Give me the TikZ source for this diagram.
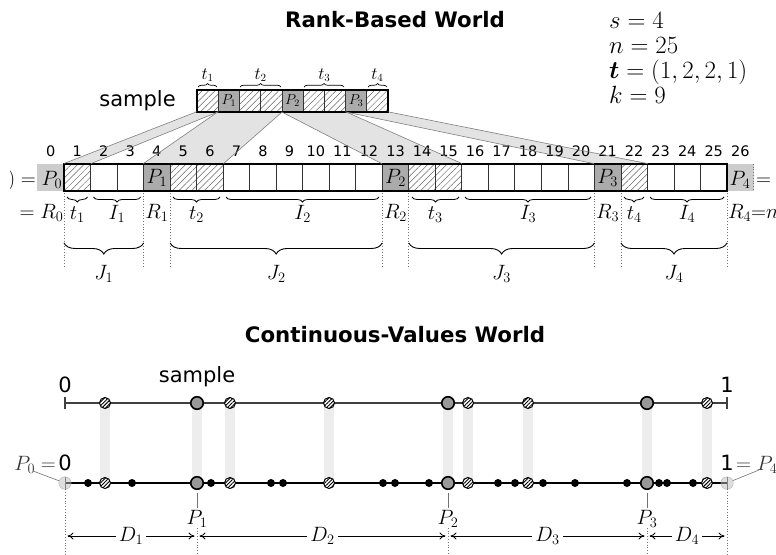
\documentclass[tikz,border=0pt]{standalone}
\usepackage{fontspec}
\usepackage{bm}
\newfontfamily\dvs{DejaVu Sans}
\usetikzlibrary{patterns.meta,decorations.pathreplacing,arrows.meta}
\pgfdeclarelayer{bg}
\pgfsetlayers{bg,main}
\newcommand\fsz[1]{\fontsize{#1}{#1}\selectfont}
\begin{document}
\begin{tikzpicture}[x=1pt,y=-1pt,
  titletext/.style={font=\dvs\bfseries\fsz{21.3}},
  sanslbl/.style={font=\dvs\fsz{21}, inner sep=0pt},
  numlbl/.style={font=\dvs\fsz{14.5}, inner sep=0pt},
  mlbl/.style={font=\fsz{22.5}, inner sep=0pt},
  plbl/.style={font=\fsz{23}, inner sep=0pt},
  slbl/.style={font=\fsz{16}, inner sep=0pt},
  rcell/.style={draw=black!80, line width=0.7pt, minimum width=26.52pt, minimum height=27pt, inner sep=0pt, font=\fsz{21}},
  scell/.style={draw=black!80, line width=0.7pt, minimum width=21.22pt, minimum height=21.5pt, inner sep=0pt, font=\fsz{14}},
  hatchc/.style={pattern={Lines[angle=45,distance=4.5pt,line width=0.5pt]}, pattern color=black!60},
  pcell/.style={fill=black!33},
  wcell/.style={fill=white},
  endcell/.style={fill=black!20, minimum width=26.52pt, minimum height=27pt, inner sep=0pt},
  fanfill/.style={fill=black!11},
  fanline/.style={draw=black!50, line width=0.6pt},
  dotl/.style={draw=black!55, dotted, line width=0.8pt},
  bracesm/.style={decorate, decoration={brace, mirror, amplitude=5pt}, line width=0.8pt},
  bracebig/.style={decorate, decoration={brace, mirror, amplitude=11pt}, line width=0.9pt},
  braceup/.style={decorate, decoration={brace, amplitude=3.5pt}, line width=0.7pt},
  ptb/.style={circle, fill=black, minimum size=8pt, inner sep=0pt},
  pth/.style={circle, draw=black, line width=1pt, minimum size=11pt, inner sep=0pt, preaction={fill=white}, pattern={Lines[angle=45,distance=2.6pt,line width=0.9pt]}, pattern color=black},
  ptg/.style={circle, draw=black, line width=1.6pt, minimum size=12.5pt, inner sep=0pt, fill=black!40},
  endc/.style={circle, draw=black!45, fill=black!25, fill opacity=0.5, draw opacity=0.6, minimum size=12.5pt, inner sep=0pt},
  band/.style={draw=black!7, line width=10.5pt},
  leader/.style={draw=black!55, line width=0.6pt},
  darr/.style={{To[length=6pt,width=7pt]}-{To[length=6pt,width=7pt]}, line width=0.8pt, shorten <=2.5pt, shorten >=2.5pt},
]
\useasboundingbox (0,0) rectangle (776,554);
\clip (10,0) rectangle (776,554);

% ---------------- Rank-Based World ----------------
\node[titletext] (title1) at (395,20) {Rank-Based World};

\node[plbl, anchor=base west] (ps) at (609,28) {$s = 4$};
\node[plbl, anchor=base west] (pn) at (609,53) {$n = 25$};
\node[plbl, anchor=base west] (pt) at (609,78) {$\bm{t} = (1, 2, 2, 1)$};
\node[plbl, anchor=base west] (pk) at (609,103) {$k = 9$};

% sample row
\node[sanslbl, anchor=base] (samplelbl) at (137.5,106) {sample};
\foreach \j/\k in {1/hatchc,3/hatchc,4/hatchc,6/hatchc,7/hatchc,9/hatchc}
  \node[scell,\k] (s\j) at ({197+21.22*\j-10.61},100.75) {};
\node[scell,pcell] (s2) at ({197+21.22*2-10.61},100.75) {$P_1$};
\node[scell,pcell] (s5) at ({197+21.22*5-10.61},100.75) {$P_2$};
\node[scell,pcell] (s8) at ({197+21.22*8-10.61},100.75) {$P_3$};
\draw[line width=2pt] (s1.north west) rectangle (s9.south east);

\draw[braceup] (198,87) -- (217,87);
\draw[braceup] (240,87) -- (281,87);
\draw[braceup] (304,87) -- (344,87);
\draw[braceup] (368,87) -- (387,87);
\node[slbl] (st1) at (207.6,75) {$t_1$};
\node[slbl] (st2) at (260.6,75) {$t_2$};
\node[slbl] (st3) at (324.3,75) {$t_3$};
\node[slbl] (st4) at (377.4,75) {$t_4$};

% rank row
\foreach \i/\k in {1/hatchc,2/wcell,3/wcell,5/hatchc,6/hatchc,7/wcell,8/wcell,9/wcell,10/wcell,11/wcell,12/wcell,14/hatchc,15/hatchc,16/wcell,17/wcell,18/wcell,19/wcell,20/wcell,22/hatchc,23/wcell,24/wcell,25/wcell}
  \node[rcell,\k] (r\i) at ({37.48+26.52*\i+13.26},177.5) {};
\node[rcell,pcell] (r4) at ({37.48+26.52*4+13.26},177.5) {$P_1$};
\node[rcell,pcell] (r13) at ({37.48+26.52*13+13.26},177.5) {$P_2$};
\node[rcell,pcell] (r21) at ({37.48+26.52*21+13.26},177.5) {$P_3$};
\node[endcell] (r0) at ({37.48+13.26},177.5) {};
\node[endcell] (r26) at ({37.48+26.52*26+13.26},177.5) {};
\draw[dotl] (r26.north east) -- (r26.south east);
\draw[line width=2pt] (r1.north west) rectangle (r25.south east);

\node[font=\fsz{21}, inner sep=0pt, anchor=base east] (p0lab) at (62.5,185) {$(0) = P_0$};
\node[font=\fsz{21}, inner sep=0pt, anchor=base west] (p4lab) at (729.5,185) {$P_4 = (n{+}1)$};

\foreach \i in {0,...,26}
  \node[numlbl] (n\i) at ({37.48+26.52*\i+13.26},151) {\i};

% fans
\begin{pgfonlayer}{bg}
  \fill[fanfill] (s1.south west) -- (r1.north west) -- (r1.north east) -- (s1.south east) -- cycle;
  \fill[fanfill] (s2.south west) -- (r4.north west) -- (r6.north east) -- (s4.south east) -- cycle;
  \fill[fanfill] (s5.south west) -- (r13.north west) -- (r15.north east) -- (s7.south east) -- cycle;
  \fill[fanfill] (s8.south west) -- (r21.north west) -- (r22.north east) -- (s9.south east) -- cycle;
\end{pgfonlayer}
\draw[fanline] (s1.south west) -- (r1.north west);
\draw[fanline] (s1.south east) -- (r1.north east);
\draw[fanline] (s2.south west) -- (r4.north west);
\draw[fanline] (s4.south east) -- (r6.north east);
\draw[fanline] (s5.south west) -- (r13.north west);
\draw[fanline] (s7.south east) -- (r15.north east);
\draw[fanline] (s8.south west) -- (r21.north west);
\draw[fanline] (s9.south east) -- (r22.north east);

% dotted guides below rank row
\foreach \x in {64,143.6,170.1,382.2,408.8,594.4,620.9,727}
  \draw[dotl] (\x,193) -- (\x,268);

% small braces
\draw[bracesm] (67,197) -- (87.5,197);
\draw[bracesm] (93.5,197) -- (140.6,197);
\draw[bracesm] (173,197) -- (220,197);
\draw[bracesm] (226,197) -- (379,197);
\draw[bracesm] (412,197) -- (459,197);
\draw[bracesm] (465,197) -- (591,197);
\draw[bracesm] (624,197) -- (644,197);
\draw[bracesm] (650,197) -- (724,197);
\node[mlbl, anchor=base] (lt1) at (77.3,219) {$t_1$};
\node[mlbl, anchor=base] (lI1) at (117,219) {$I_1$};
\node[mlbl, anchor=base] (lt2) at (196.6,219) {$t_2$};
\node[mlbl, anchor=base] (lI2) at (302.7,219) {$I_2$};
\node[mlbl, anchor=base] (lt3) at (435.3,219) {$t_3$};
\node[mlbl, anchor=base] (lI3) at (528,219) {$I_3$};
\node[mlbl, anchor=base] (lt4) at (634.2,219) {$t_4$};
\node[mlbl, anchor=base] (lI4) at (687,219) {$I_4$};

\node[mlbl, anchor=base east] (R0) at (63.5,218) {$= R_0$};
\node[mlbl, anchor=base] (R1) at (156.8,218) {$R_1$};
\node[mlbl, anchor=base] (R2) at (395.5,218) {$R_2$};
\node[mlbl, anchor=base] (R3) at (607.7,218) {$R_3$};
\node[mlbl, anchor=base west] (R4) at (728,218) {$R_4{=}n$};

% big braces
\draw[bracebig] (64,243) -- (143.6,243);
\draw[bracebig] (170.1,243) -- (382.2,243);
\draw[bracebig] (408.8,243) -- (594.4,243);
\draw[bracebig] (620.9,243) -- (727,243);
\node[mlbl, anchor=base] (J1) at (103.8,279) {$J_1$};
\node[mlbl, anchor=base] (J2) at (276.2,279) {$J_2$};
\node[mlbl, anchor=base] (J3) at (501.6,279) {$J_3$};
\node[mlbl, anchor=base] (J4) at (674,279) {$J_4$};

% ---------------- Continuous-Values World ----------------
\node[titletext] (title2) at (395,335) {Continuous-Values World};

\coordinate (tl0) at (65,403);
\coordinate (tl1) at (727,403);
\coordinate (bl0) at (65,483);
\coordinate (bl1) at (727,483);
\draw[line width=1.1pt, black!75] (tl0) -- (tl1);
\draw[line width=1.1pt, black!75] (65,397) -- (65,409);
\draw[line width=1.1pt, black!75] (727,397) -- (727,409);
\draw[line width=1.1pt] (bl0) -- (bl1);
\draw[line width=0.9pt, black!70] (65,477) -- (65,489);
\draw[line width=0.9pt, black!70] (727,477) -- (727,489);

\node[sanslbl, anchor=base] (zeroT) at (65,392) {0};
\node[sanslbl, anchor=base] (oneT) at (727,392) {1};
\node[sanslbl, anchor=base] (sample2) at (197,382) {sample};

\foreach \i in {88,132,211,271,283,383,395,429,498,515,543,575,627,659,667,693}
  \node[ptb] (bd\i) at (\i,483) {};

\foreach \x/\k [count=\c] in {105/pth,197/ptg,230/pth,329/pth,448/ptg,468/pth,528/pth,647/ptg,707/pth}{
  \node[\k] (ts\c) at (\x,403) {};
  \node[\k] (bs\c) at (\x,483) {};
  \begin{pgfonlayer}{bg}
    \draw[band] (ts\c.center) -- (bs\c.center);
  \end{pgfonlayer}
}

\node[endc] (p0c) at (65,483) {};
\node[endc] (p4c) at (727,483) {};
\node[sanslbl, anchor=base] (zeroB) at (65,470) {0};
\node[sanslbl, anchor=base] (oneB) at (727,470) {1};
\node[font=\fsz{21}, inner sep=0pt, anchor=base east, text=black!80] (p0eq) at (56,470) {$P_0 =$};
\node[font=\fsz{21}, inner sep=0pt, anchor=base west, text=black!80] (p4eq) at (736,470) {$= P_4$};
\coordinate (p0lead) at (33,471);
\coordinate (p4lead) at (759,470);
\draw[leader] (p0lead) -- (p0c);
\draw[leader] (p4lead) -- (p4c);

\node[mlbl] (lp1) at (197,519) {$P_1$};
\node[mlbl] (lp2) at (448,519) {$P_2$};
\node[mlbl] (lp3) at (647,519) {$P_3$};
\draw[leader, shorten <=3pt, shorten >=2pt] (bs2) -- (lp1);
\draw[leader, shorten <=3pt, shorten >=2pt] (bs5) -- (lp2);
\draw[leader, shorten <=3pt, shorten >=2pt] (bs8) -- (lp3);

\coordinate (dv0) at (65,554);
\coordinate (dv1) at (197,554);
\coordinate (dv2) at (448,554);
\coordinate (dv3) at (647,554);
\coordinate (dv4) at (727,554);
\draw[dotl] (p0c.south) -- (dv0);
\draw[dotl] (p4c.south) -- (dv4);
\draw[dotl] (lp1.south) -- (dv1);
\draw[dotl] (lp2.south) -- (dv2);
\draw[dotl] (lp3.south) -- (dv3);

\coordinate (da0) at (65,536);
\coordinate (da1) at (197,536);
\coordinate (da2) at (448,536);
\coordinate (da3) at (647,536);
\coordinate (da4) at (727,536);
\draw[darr] (da0) -- node[mlbl, fill=white, inner xsep=3pt, inner ysep=1pt] (D1) {$D_1$} (da1);
\draw[darr] (da1) -- node[mlbl, fill=white, inner xsep=3pt, inner ysep=1pt] (D2) {$D_2$} (da2);
\draw[darr] (da2) -- node[mlbl, fill=white, inner xsep=3pt, inner ysep=1pt] (D3) {$D_3$} (da3);
\draw[darr] (da3) -- node[mlbl, fill=white, inner xsep=3pt, inner ysep=1pt] (D4) {$D_4$} (da4);
\end{tikzpicture}
\end{document}
